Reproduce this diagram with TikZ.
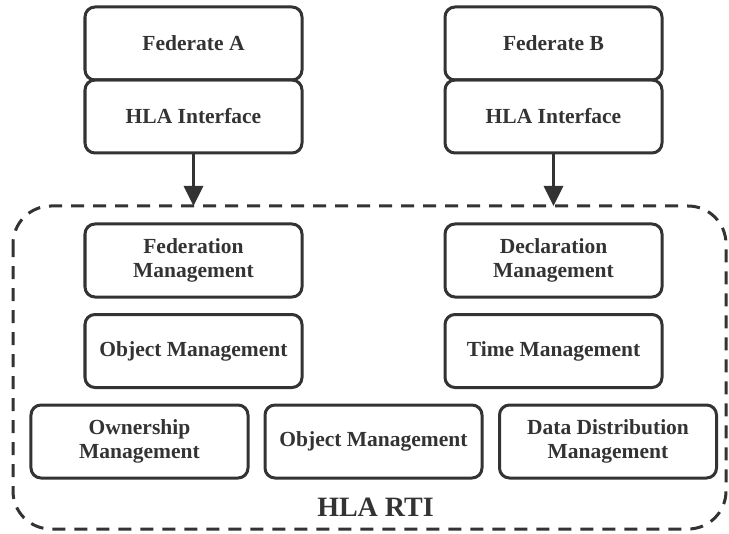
\documentclass[tikz,border=0pt]{standalone}
\usepackage{fontspec}
\setmainfont{Liberation Serif}
\usetikzlibrary{arrows.meta}
\definecolor{ink}{HTML}{333333}
\begin{document}
\begin{tikzpicture}[x=1bp,y=-1bp,
  module/.style={draw=ink, line width=3bp, rounded corners=10bp,
    minimum width=217bp, minimum height=73bp, inner sep=0pt,
    align=center, text=ink,
    font=\fontsize{21.5bp}{24bp}\selectfont\bfseries},
  flow/.style={draw=ink, line width=3bp,
    -{Triangle[length=20bp,width=19bp]}},
  rti/.style={draw=ink, line width=3bp, dash pattern=on 13bp off 9bp,
    rounded corners=38bp}]
\useasboundingbox (0,0) rectangle (729,534);

% federates and their interfaces
\node[module] (fa)  at (193.5,43.5)  {Federate A};
\node[module] (ia)  at (193.5,116.5) {HLA Interface};
\node[module] (fb)  at (553.5,43.5)  {Federate B};
\node[module] (ib)  at (553.5,116.5) {HLA Interface};

% RTI boundary
\draw[rti] (13,206) rectangle (726,529);
\coordinate (ta) at (193.5,206);
\coordinate (tb) at (553.5,206);

% RTI services
\node[module] (fed)  at (193.5,260.5) {Federation\\Management};
\node[module] (obj)  at (193.5,351)   {Object Management};
\node[module] (decl) at (553.5,260.5) {Declaration\\Management};
\node[module] (time) at (553.5,351)   {Time Management};
\node[module] (own)  at (139.5,441.5) {Ownership\\Management};
\node[module] (obj2) at (373.5,441.5) {Object Management};
\node[module] (ddm)  at (608,441.5)   {Data Distribution\\Management};

\node[text=ink, font=\fontsize{28bp}{30bp}\selectfont\bfseries] (lbl) at (375.5,507.5) {HLA RTI};

% interfaces feed the RTI
\draw[flow] (ia.south) -- (ta);
\draw[flow] (ib.south) -- (tb);
\end{tikzpicture}
\end{document}
